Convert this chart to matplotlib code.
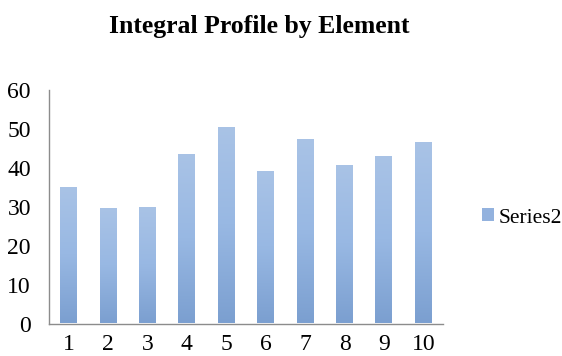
import numpy as np
import matplotlib
matplotlib.use("Agg")
import matplotlib.pyplot as plt
from matplotlib.colors import LinearSegmentedColormap
from matplotlib.patches import Patch

categories = ["1", "2", "3", "4", "5", "6", "7", "8", "9", "10"]
series2 = [35.1, 29.7, 29.9, 43.6, 50.5, 39.2, 47.4, 40.7, 43.0, 46.6]
y_ticks = [0, 10, 20, 30, 40, 50, 60]

plt.rcParams["font.family"] = ["Liberation Serif", "DejaVu Serif"]

fig = plt.figure(figsize=(5.62, 3.56), dpi=100)
ax = fig.add_axes([49 / 562, 1 - 323.5 / 356, (443 - 49) / 562, (323.5 - 90) / 356])

x = np.arange(len(categories))
bars = ax.bar(x, series2, width=0.43, color="none", edgecolor="none", zorder=2)

# vertical gradient fill, lighter at the top
cmap = LinearSegmentedColormap.from_list("bar_grad", ["#7B9FD0", "#98B8E3", "#A9C3E6"])
grad = np.linspace(0, 1, 256).reshape(-1, 1)
for b in bars:
    x0, w, h = b.get_x(), b.get_width(), b.get_height()
    im = ax.imshow(grad, cmap=cmap, origin="lower", aspect="auto",
                   extent=[x0, x0 + w, 0, h], zorder=2)
    im.set_clip_path(b)

ax.set_xlim(-0.5, len(categories) - 0.5)
ax.set_ylim(0, 60)
ax.set_xticks(x)
ax.set_xticklabels(categories)
ax.set_yticks(y_ticks)
ax.tick_params(axis="both", length=0, labelsize=17, colors="#000000")
ax.tick_params(axis="x", pad=7.5)
ax.tick_params(axis="y", pad=13)

for side in ["top", "right"]:
    ax.spines[side].set_visible(False)
for side in ["left", "bottom"]:
    ax.spines[side].set_color("#8C8C8C")
    ax.spines[side].set_linewidth(1.0)

fig.text(259 / 562, 1 - 27 / 356, "Integral Profile by Element", ha="center", va="center",
         fontsize=18.5, fontweight="bold")

handle = Patch(facecolor="#93B2DE", edgecolor="none")
fig.legend([handle], ["Series2"], loc="center left", bbox_to_anchor=(482 / 562, 1 - 218 / 356),
           frameon=False, fontsize=15.5, handlelength=0.55, handleheight=0.55, handletextpad=0.2,
           borderpad=0, borderaxespad=0)

fig.savefig("out.png", dpi=100)
